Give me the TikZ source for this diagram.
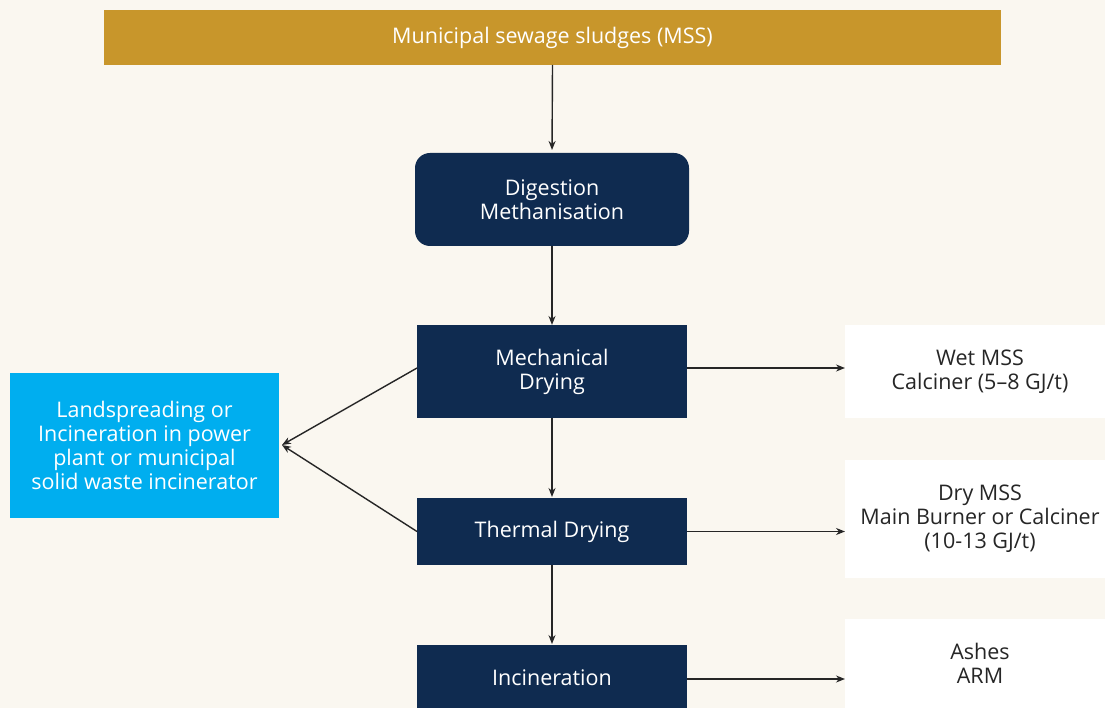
\documentclass[tikz,border=0pt]{standalone}
\usepackage{fontspec}
\setmainfont{Open Sans}
\usetikzlibrary{arrows.meta}
\definecolor{cream}{HTML}{FAF7F0}
\definecolor{gold}{HTML}{C8962B}
\definecolor{navy}{HTML}{0F2B50}
\definecolor{sky}{HTML}{00AEEF}
\definecolor{ink}{HTML}{262626}
\begin{document}
\begin{tikzpicture}[x=1pt,y=-1pt,
  every node/.style={inner sep=0pt,outer sep=0pt,align=center,font=\fontsize{21.5}{24}\selectfont},
  goldbox/.style={fill=gold,text=white,minimum width=897pt,minimum height=55pt},
  navybox/.style={fill=navy,text=white,minimum width=270pt},
  bluebox/.style={fill=sky,text=white,minimum width=269pt,minimum height=145pt},
  whitebox/.style={fill=white,text=ink,minimum width=270pt},
  arr/.style={draw=ink,line width=1.4pt,-{Stealth[length=9pt,width=7pt]}}]
  \useasboundingbox (0,0) rectangle (1105,708);
  \clip (0,0) rectangle (1105,708);
  \fill[cream] (0,0) rectangle (1105,708);

  % main chain
  \node[goldbox] (mss) at (552.5,37.5) {Municipal sewage sludges (MSS)};
  \node[navybox,minimum width=274pt,minimum height=93pt,rounded corners=15pt] (dig) at (552,199.5) {Digestion\\Methanisation};
  \node[navybox,minimum height=93pt] (mech) at (552,371.5) {Mechanical\\Drying};
  \node[navybox,minimum height=67pt] (therm) at (552,531.5) {Thermal Drying};
  \node[navybox,minimum height=66pt] (inc) at (552,678) {Incineration};

  % side outputs
  \node[bluebox] (land) at (144.5,445.5) {Landspreading or\\Incineration in power\\plant or municipal\\solid waste incinerator};
  \node[whitebox,minimum height=93pt] (wet) at (980,371.5) {Wet MSS\\Calciner (5–8 GJ/t)};
  \node[whitebox,minimum height=118pt] (dry) at (980,519) {Dry MSS\\Main Burner or Calciner\\(10-13 GJ/t)};
  \node[whitebox,minimum height=89pt] (ash) at (980,663.5) {Ashes\\ARM};

  % vertical flow
  \draw[arr,shorten >=3pt] (mss.south) -- (dig.north);
  \draw[arr] (dig.south) -- (mech.north);
  \draw[arr,shorten >=1pt] (mech.south) -- (therm.north);
  \draw[arr,shorten >=1pt] (therm.south) -- (inc.north);

  % horizontal flow
  \draw[arr] (mech.east |- 0,368) -- (wet.west |- 0,368);
  \draw[arr] (therm.east) -- (dry.west |- therm.east);
  \draw[arr] (inc.east |- 0,679) -- (ash.west |- 0,679);

  % back to land use
  \coordinate (landin) at ([xshift=3pt,yshift=0.5pt]land.east);
  \draw[arr] (mech.west |- 0,368) -- (landin);
  \draw[arr] (therm.west) -- (landin);
\end{tikzpicture}
\end{document}
